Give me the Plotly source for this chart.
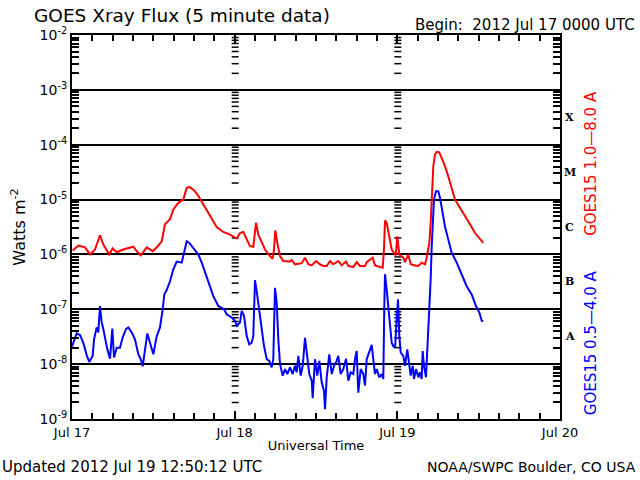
import datetime as dt
import plotly.graph_objects as go

# ---- data (hours after 2012-07-17 00:00 UTC, log10 of flux in W m^-2) ----
long_hours = [0.10, 0.93, 1.92, 2.66, 3.39, 4.13, 4.62, 5.50, 6.00, 6.60, 7.57, 8.31, 9.04, 9.55,
              10.14, 11.02, 11.91, 12.59, 13.24, 13.72, 14.46, 14.95, 15.68, 16.42, 16.92, 17.31,
              18.00, 18.63, 19.37, 20.36, 21.35, 22.32, 23.31, 24.30, 24.79, 25.27, 25.78, 26.26,
              26.75, 27.15, 27.49, 27.99, 28.48, 29.21, 29.61, 29.80, 30.00, 30.29, 30.69, 31.17,
              32.16, 32.41, 32.90, 33.89, 34.38, 34.86, 35.37, 36.00, 36.59, 37.08, 37.58, 38.07,
              38.55, 39.29, 39.79, 40.43, 40.77, 41.50, 42.00, 42.49, 43.23, 43.48, 43.97, 44.37,
              44.70, 45.19, 45.84, 46.03, 46.18, 46.43, 46.81, 47.17, 47.51, 47.76, 48.00, 48.29,
              48.88, 49.13, 49.62, 49.97, 50.61, 51.09, 51.59, 52.08, 52.33, 52.72, 52.92, 53.11,
              53.31, 53.56, 53.81, 54.19, 54.55, 55.03, 55.52, 56.02, 56.51, 57.24, 57.98, 58.72,
              59.46, 60.20, 60.68]
long_log = [-5.93, -5.84, -5.87, -6.00, -5.91, -5.65, -5.82, -6.00, -5.89, -5.96, -5.91, -5.89, -5.86, -5.94,
            -6.02, -5.87, -5.94, -5.86, -5.76, -5.45, -5.36, -5.18, -5.06, -5.00, -4.79, -4.77,
            -4.83, -4.93, -5.09, -5.30, -5.50, -5.59, -5.64, -5.71, -5.61, -5.59, -5.71, -5.85,
            -5.86, -5.42, -5.64, -5.79, -5.91, -6.03, -6.08, -5.91, -5.56, -5.79, -6.03, -6.12,
            -6.13, -6.10, -6.18, -6.16, -6.06, -6.18, -6.20, -6.12, -6.18, -6.21, -6.21, -6.12,
            -6.18, -6.12, -6.20, -6.13, -6.21, -6.23, -6.14, -6.21, -6.21, -6.14, -6.10, -6.06,
            -6.20, -6.22, -6.24, -5.91, -5.38, -5.42, -5.67, -5.91, -5.97, -6.02, -5.67, -6.00,
            -6.06, -6.14, -6.00, -6.18, -6.20, -6.21, -6.15, -6.18, -6.06, -5.79, -5.42, -4.82,
            -4.39, -4.18, -4.13, -4.14, -4.24, -4.39, -4.58, -4.79, -5.00, -5.15, -5.29, -5.45,
            -5.61, -5.73, -5.79]

short_hours = [0.00, 0.69, 1.18, 1.67, 2.17, 2.55, 3.05, 3.25, 3.64, 3.88, 4.13, 4.38, 4.62, 4.87,
               5.21, 5.61, 5.95, 6.20, 6.60, 7.08, 7.48, 7.97, 8.31, 8.81, 9.30, 9.78, 10.14, 10.43,
               10.77, 11.11, 11.51, 12.00, 12.50, 12.98, 13.38, 13.62, 13.97, 14.46, 14.95, 15.45,
               16.19, 16.52, 16.92, 17.31, 17.90, 18.63, 19.14, 19.62, 20.26, 20.85, 21.59, 22.43,
               22.82, 23.56, 24.05, 24.30, 24.79, 25.04, 25.38, 25.78, 26.16, 26.51, 26.75, 27.00,
               27.25, 27.63, 27.99, 28.33, 28.73, 29.11, 29.46, 29.70, 29.95, 30.20, 30.44, 30.69,
               31.09, 31.43, 31.77, 32.16, 32.56, 32.90, 33.15, 33.39, 33.74, 34.04, 34.38, 34.63,
               35.01, 35.37, 35.51, 35.85, 36.19, 36.49, 36.84, 37.18, 37.33, 37.58, 37.96, 38.32,
               38.66, 39.05, 39.29, 39.64, 40.03, 40.43, 40.77, 41.12, 41.50, 41.75, 42.00, 42.24,
               42.60, 42.98, 43.23, 43.48, 43.86, 44.22, 44.45, 44.70, 44.96, 45.34, 45.69, 45.93,
               46.08, 46.18, 46.43, 46.81, 47.17, 47.40, 47.66, 47.91, 48.10, 48.29, 48.50, 48.88,
               49.13, 49.47, 49.77, 49.97, 50.27, 50.46, 50.76, 51.09, 51.34, 51.59, 51.74, 51.93,
               52.23, 52.42, 52.57, 52.72, 52.92, 53.07, 53.22, 53.41, 53.70, 54.04, 54.30, 54.69,
               55.03, 55.52, 56.02, 56.76, 57.50, 58.23, 58.97, 59.61, 60.10, 60.45, 60.68]
short_log = [-7.68, -7.44, -7.47, -7.61, -7.84, -7.96, -7.85, -7.55, -7.33, -7.42, -6.94, -7.24, -7.36, -7.55,
             -7.73, -7.90, -7.35, -7.88, -7.70, -7.70, -7.51, -7.36, -7.33, -7.42, -7.55, -7.82, -7.91, -8.04,
             -7.73, -7.44, -7.61, -7.82, -7.49, -7.33, -7.00, -6.73, -6.65, -6.49, -6.27, -6.13,
             -6.15, -5.97, -5.76, -5.79, -5.88, -6.00, -6.15, -6.33, -6.55, -6.76, -6.94, -7.00,
             -7.09, -7.15, -7.21, -7.30, -7.24, -7.03, -7.12, -7.49, -7.64, -7.61, -7.49, -6.47,
             -6.67, -7.06, -7.36, -7.67, -7.91, -7.94, -8.06, -7.91, -6.61, -6.88, -7.55, -8.00,
             -8.21, -8.09, -8.18, -8.06, -8.18, -8.03, -8.15, -7.85, -8.21, -8.03, -7.52, -7.76,
             -8.18, -8.30, -8.62, -7.91, -8.21, -7.94, -8.33, -8.49, -8.82, -8.24, -7.82, -8.18,
             -8.03, -7.94, -7.85, -8.18, -8.09, -7.90, -8.30, -8.15, -8.18, -7.91, -7.76, -8.52,
             -8.09, -8.18, -8.39, -7.91, -7.79, -7.65, -7.91, -8.18, -8.09, -8.24, -8.18, -8.27,
             -6.94, -6.36, -6.64, -7.12, -7.61, -7.67, -7.70, -7.18, -6.82, -7.49, -7.79, -7.85,
             -8.03, -7.73, -7.97, -8.21, -8.03, -8.27, -8.09, -8.24, -8.15, -8.27, -7.76, -8.03,
             -8.24, -7.79, -7.30, -6.94, -6.45, -5.85, -5.42, -5.00, -4.85, -4.85, -4.97, -5.24,
             -5.49, -5.73, -5.97, -6.15, -6.36, -6.58, -6.73, -6.94, -7.06, -7.21, -7.22]

day_labels = ["Jul 17", "Jul 18", "Jul 19", "Jul 20"]
decades = [-9, -8, -7, -6, -5, -4, -3, -2]
classes = ["A", "B", "C", "M", "X"]
class_levels = [-7.5, -6.5, -5.5, -4.5, -3.5]

start = dt.datetime(2012, 7, 17)
t_long = [start + dt.timedelta(hours=h) for h in long_hours]
t_short = [start + dt.timedelta(hours=h) for h in short_hours]
f_long = [10 ** v for v in long_log]
f_short = [10 ** v for v in short_log]
day_vals = [start + dt.timedelta(days=i) for i in range(len(day_labels))]
dec_vals = [10.0 ** d for d in decades]
dec_text = ["10<sup>%d</sup>" % d for d in decades]

FONT = "DejaVu Sans"

fig = go.Figure()
fig.add_trace(go.Scatter(x=t_long, y=f_long, mode="lines",
                         line=dict(color="#ff0000", width=2), showlegend=False))
fig.add_trace(go.Scatter(x=t_short, y=f_short, mode="lines",
                         line=dict(color="#0000ff", width=2), showlegend=False))

fig.update_layout(
    width=640, height=480,
    margin=dict(l=72, r=80, t=35, b=61),
    paper_bgcolor="white", plot_bgcolor="white",
    font=dict(family=FONT, color="black", size=13),
    xaxis=dict(type="date", range=[day_vals[0], day_vals[-1]],
               tickvals=day_vals, ticktext=day_labels,
               ticks="inside", ticklen=8, tickcolor="black", tickwidth=1.5,
               minor=dict(ticks="inside", ticklen=6, dtick=3 * 3600 * 1000,
                          tickcolor="black", tickwidth=1.5, showgrid=False),
               showgrid=False, zeroline=False, showline=True, linecolor="black", linewidth=2,
               mirror="allticks", tickfont=dict(size=13, family=FONT),
               title=dict(text="Universal Time", font=dict(size=13, family=FONT), standoff=2)),
    yaxis=dict(type="log", range=[decades[0], decades[-1]], tickvals=dec_vals, ticktext=dec_text,
               ticks="inside", ticklen=8, tickcolor="black", tickwidth=1.5,
               minor=dict(ticks="inside", ticklen=7, tickcolor="black", tickwidth=1.5,
                          dtick="D1", showgrid=False),
               showgrid=True, gridcolor="black", gridwidth=1.5,
               showline=True, linecolor="black", linewidth=2, mirror="allticks",
               tickfont=dict(size=14, family=FONT),
               title=dict(text="Watts m<sup>-2</sup>", font=dict(size=16, family=FONT), standoff=10)),
)

# columns of log tick marks at the interior day boundaries (drawn beneath the curves)
for day in day_vals[1:-1]:
    for d in decades[:-1]:
        for m in range(2, 10):
            yv = m * 10.0 ** d
            fig.add_shape(type="line", xref="x", yref="y", xsizemode="pixel", xanchor=day,
                          x0=-3, x1=4, y0=yv, y1=yv, layer="below",
                          line=dict(color="black", width=1.5))

fig.add_annotation(text="GOES Xray Flux (5 minute data)", xref="paper", yref="paper",
                   x=-0.082, y=1.05, xanchor="left", yanchor="middle", showarrow=False,
                   font=dict(size=18.5, family=FONT))
fig.add_annotation(text="Begin:  2012 Jul 17 0000 UTC", xref="paper", yref="paper",
                   x=1.158, y=1.026, xanchor="right", yanchor="middle", showarrow=False,
                   font=dict(size=15, family=FONT))
fig.add_annotation(text="Updated 2012 Jul 19 12:50:12 UTC", xref="paper", yref="paper",
                   x=-0.1475, y=-0.125, xanchor="left", yanchor="middle", showarrow=False,
                   font=dict(size=15, family=FONT))
fig.add_annotation(text="NOAA/SWPC Boulder, CO USA", xref="paper", yref="paper",
                   x=1.16, y=-0.125, xanchor="right", yanchor="middle", showarrow=False,
                   font=dict(size=14, family=FONT))
for c, lv in zip(classes, class_levels):
    fig.add_annotation(text="<b>%s</b>" % c, xref="paper", yref="y", x=1.0195, y=lv,
                       xanchor="center", yanchor="middle", showarrow=False,
                       font=dict(size=11, family="DejaVu Serif"))
fig.add_annotation(text="GOES15 1.0\u20148.0 A", xref="paper", yref="paper", x=1.0635, y=0.667,
                   xanchor="center", yanchor="middle",
                   textangle=-90, showarrow=False, font=dict(size=15, family=FONT, color="#ff0000"))
fig.add_annotation(text="GOES15 0.5\u20144.0 A", xref="paper", yref="paper", x=1.0635, y=0.2,
                   xanchor="center", yanchor="middle",
                   textangle=-90, showarrow=False, font=dict(size=15, family=FONT, color="#0000ff"))

fig.write_html("out.html", config={"displayModeBar": False},
               post_script="document.body.style.margin='0';")
